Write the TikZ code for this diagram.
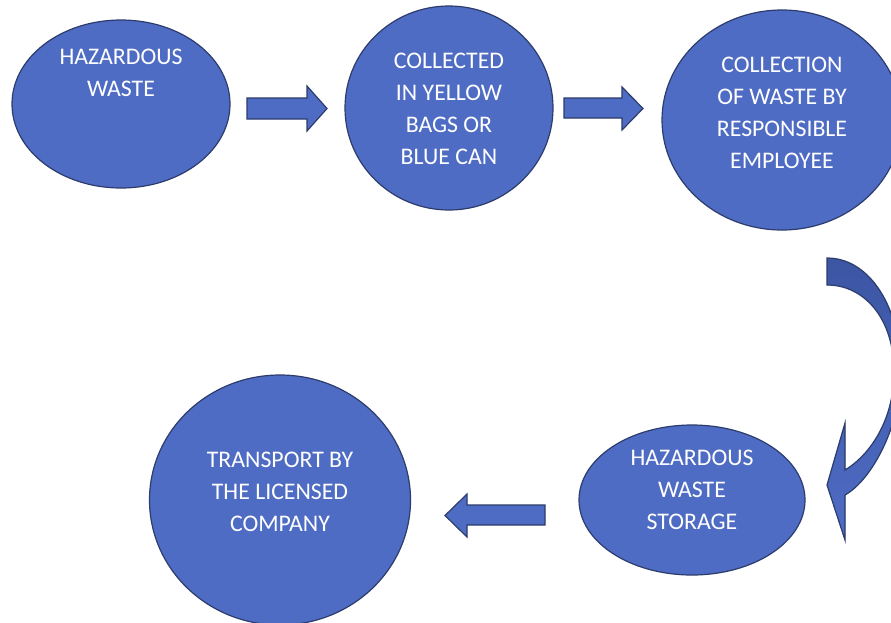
\documentclass[tikz,border=0pt]{standalone}
\usepackage{fontspec}
\setmainfont{Carlito}
\usetikzlibrary{shapes.geometric,positioning}

\definecolor{blobfill}{RGB}{79,108,196}
\definecolor{blobline}{RGB}{44,60,108}
\definecolor{bendtop}{RGB}{60,86,164}

\begin{document}
\begin{tikzpicture}[
    x=1pt, y=-1pt,
    blob/.style={
        ellipse,
        draw=blobline,
        fill=blobfill,
        line width=1.2pt,
        inner sep=0pt
    },
    caption/.style={
        text=white,
        align=center,
        font=\fontsize{23.8}{32}\selectfont
    },
    blockarrow/.style={
        draw=blobline,
        fill=blobfill,
        line width=1.2pt,
        line join=miter
    }
]

\clip (0,0) rectangle (891,622);
\fill[white] (0,0) rectangle (891,622);

% Nodes
\node[blob, minimum width=218pt, minimum height=168pt] (haz) at (121,104) {};
\node[blob, minimum width=208pt, minimum height=204pt] (bags) at (449,108) {};
\node[blob, minimum width=240pt, minimum height=220pt] (coll) at (782,120) {};
\node[blob, minimum width=226pt, minimum height=150pt] (store) at (692,500) {};
\node[blob, minimum width=261pt, minimum height=250pt] (trans) at (280,500) {};

% Texts
\node[caption] (haz-t) at ([yshift=31pt]haz.center) {HAZARDOUS\\WASTE};
\node[caption] (bags-t) at ([yshift=-1pt]bags.center) {COLLECTED\\IN YELLOW\\BAGS OR\\BLUE CAN};
\node[caption] (coll-t) at ([yshift=7pt]coll.center) {COLLECTION\\OF WASTE BY\\RESPONSIBLE\\EMPLOYEE};
\node[caption] (store-t) at ([yshift=10pt]store.center) {HAZARDOUS\\WASTE\\STORAGE};
\node[caption] (trans-t) at ([yshift=8pt]trans.center) {TRANSPORT BY\\THE LICENSED\\COMPANY};

% Arrows
\draw[blockarrow] (247,98) -- (307,98) -- (307,86) -- (327,108.5) -- (307,131)
    -- (307,119) -- (247,119) -- cycle;
\draw[blockarrow] (564,98) -- (622,98) -- (622,87) -- (643,108.5) -- (622,130)
    -- (622,118) -- (564,118) -- cycle;
\draw[blockarrow] (545,505) -- (467,505) -- (467,494) -- (445,515.5) -- (467,537)
    -- (467,525) -- (545,525) -- cycle;

% Bent arrow
\draw[blockarrow, top color=bendtop, bottom color=blobfill]
    (827,258) .. controls (870,258) and (901,308) .. (901,372)
    .. controls (901,425) and (872,480) .. (845,495)
    -- (845,540) -- (827,485) -- (845,423) -- (845,470)
    .. controls (870,455) and (894,420) .. (894,372)
    .. controls (894,318) and (864,285) .. (827,285) -- cycle;

\end{tikzpicture}
\end{document}
